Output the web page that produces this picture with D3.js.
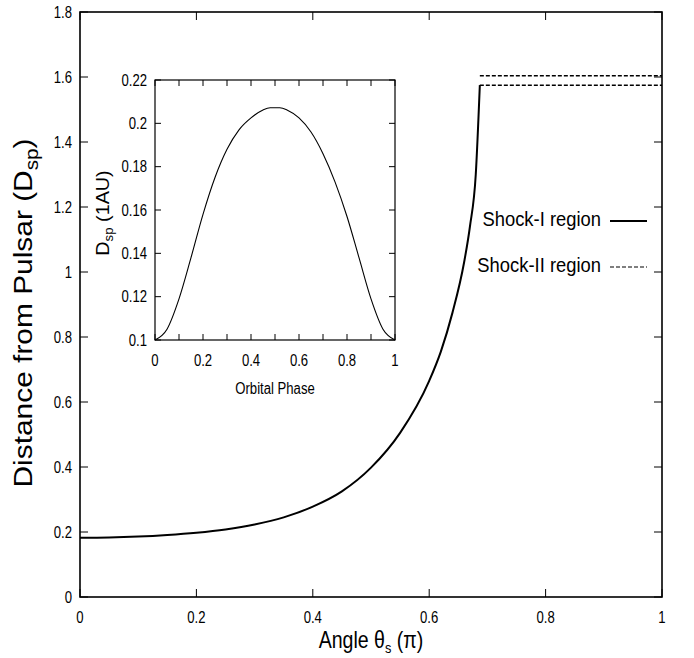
<!DOCTYPE html>
<html><head><meta charset="utf-8">
<script src="https://cdn.jsdelivr.net/npm/d3@7"></script>
<style>
body{margin:0;background:#fff;}
text{font-family:"Liberation Sans",Arial,Helvetica,sans-serif;fill:#000;}
</style></head>
<body><svg id="c" width="694" height="658"></svg>
<script>
// Main curve: shock distance vs angle (units of pi)
const shockAngle = [0, 0.05, 0.1, 0.15, 0.2, 0.25, 0.3, 0.35, 0.4, 0.45, 0.5, 0.55, 0.6, 0.62, 0.64, 0.66, 0.67, 0.68, 0.687];
const shockDist  = [0.182, 0.183, 0.186, 0.191, 0.198, 0.208, 0.223, 0.245, 0.278, 0.325, 0.398, 0.505, 0.665, 0.755, 0.875, 1.03, 1.14, 1.30, 1.575];
// Shock-II region (dashed)
const shock2Angle = [0.687, 1];
const shock2Upper = [1.604, 1.604];
const shock2Lower = [1.575, 1.575];
// Inset: D_sp vs orbital phase
const phase = [0, 0.05, 0.1, 0.15, 0.2, 0.25, 0.3, 0.35, 0.4, 0.45, 0.48, 0.52, 0.55, 0.6, 0.65, 0.7, 0.75, 0.8, 0.85, 0.9, 0.95, 1];
const dsp   = [0.1, 0.105, 0.119, 0.138, 0.158, 0.175, 0.188, 0.197, 0.2025, 0.2062, 0.2072, 0.2072, 0.2062, 0.2025, 0.196, 0.186, 0.173, 0.157, 0.138, 0.119, 0.105, 0.1];
const mainXTicks = [0, 0.2, 0.4, 0.6, 0.8, 1];
const mainYTicks = [0, 0.2, 0.4, 0.6, 0.8, 1, 1.2, 1.4, 1.6, 1.8];
const insetXTicks = [0, 0.1, 0.2, 0.3, 0.4, 0.5, 0.6, 0.7, 0.8, 0.9, 1];
const insetXLabels = [0, 0.2, 0.4, 0.6, 0.8, 1];
const insetYTicks = [0.1, 0.12, 0.14, 0.16, 0.18, 0.2, 0.22];
const legendLabels = ["Shock-I region", "Shock-II region"];

const svg = d3.select("#c");
const fmt = d => String(+d.toFixed(2));

// condensed text helper
function txt(g, x, y, s, fs, anchor, sx, dy) {
  return g.append("text").attr("transform",`translate(${x},${y}) scale(${sx},1)`)
    .attr("text-anchor",anchor).attr("font-size",fs).attr("dy",dy||0).text(s);
}

function drawAxes(g, x, y, xt, xl, yt, tl, fs, sx, xlOff) {
  const [x0,x1] = x.range(), [y0,y1] = y.range();
  xt.forEach(v => {
    g.append("line").attr("x1",x(v)).attr("x2",x(v)).attr("y1",y0).attr("y2",y0-tl).attr("stroke","#000").attr("stroke-width",1);
    g.append("line").attr("x1",x(v)).attr("x2",x(v)).attr("y1",y1).attr("y2",y1+tl).attr("stroke","#000").attr("stroke-width",1);
  });
  yt.forEach(v => {
    g.append("line").attr("x1",x0).attr("x2",x0+tl).attr("y1",y(v)).attr("y2",y(v)).attr("stroke","#000").attr("stroke-width",1);
    g.append("line").attr("x1",x1).attr("x2",x1-tl).attr("y1",y(v)).attr("y2",y(v)).attr("stroke","#000").attr("stroke-width",1);
  });
  xl.forEach(v => txt(g, x(v), y0+xlOff, fmt(v), fs, "middle", sx));
  yt.forEach(v => txt(g, x0-8, y(v), fmt(v), fs, "end", sx, "0.36em"));
}

// ---- main plot
const M = {l:80, r:662, t:12, b:597};
const x = d3.scaleLinear().domain([0,1]).range([M.l, M.r]);
const y = d3.scaleLinear().domain([0,1.8]).range([M.b, M.t]);
const g = svg.append("g");
drawAxes(g, x, y, mainXTicks, mainXTicks, mainYTicks, 8, 16, 0.82, 26);
g.append("rect").attr("x",M.l).attr("y",M.t).attr("width",M.r-M.l).attr("height",M.b-M.t).attr("fill","none").attr("stroke","#000").attr("stroke-width",1.6);

const line = d3.line().x(d=>x(d[0])).y(d=>y(d[1])).curve(d3.curveMonotoneX);
g.append("path").datum(d3.zip(shockAngle, shockDist)).attr("d",line).attr("fill","none").attr("stroke","#000").attr("stroke-width",2);
const lineL = d3.line().x(d=>x(d[0])).y(d=>y(d[1]));
g.append("path").datum(d3.zip(shock2Angle, shock2Upper)).attr("d",lineL).attr("fill","none").attr("stroke","#000").attr("stroke-width",1.5).attr("stroke-dasharray","4,2");
g.append("path").datum(d3.zip(shock2Angle, shock2Lower)).attr("d",lineL).attr("fill","none").attr("stroke","#000").attr("stroke-width",1.5).attr("stroke-dasharray","4,2");

// axis titles
const xt = g.append("text").attr("transform",`translate(${(M.l+M.r)/2},648) scale(0.85,1)`).attr("text-anchor","middle").attr("font-size",23);
xt.append("tspan").text("Angle θ");
xt.append("tspan").attr("font-size",15).attr("dy",5).text("s");
xt.append("tspan").attr("dy",-5).text(" (π)");
const yt = g.append("text").attr("transform","translate(32,313) rotate(-90) scale(1.15,1)").attr("text-anchor","middle").attr("font-size",26);
yt.append("tspan").text("Distance from Pulsar (D");
yt.append("tspan").attr("font-size",18).attr("dy",6).text("sp");
yt.append("tspan").attr("dy",-6).text(")");

// legend
const leg = g.append("g");
[[219,null],[265,"4,2"]].forEach((p,i) => {
  txt(leg, 601, p[0], legendLabels[i], 20, "end", 0.92, "0.36em");
  leg.append("line").attr("x1",610).attr("x2",647).attr("y1",p[0]+2).attr("y2",p[0]+2).attr("stroke","#000").attr("stroke-width",i?1.2:1.8).attr("stroke-dasharray",p[1]);
});

// ---- inset
const I = {l:155, r:395, t:80, b:340};
const xi = d3.scaleLinear().domain([0,1]).range([I.l, I.r]);
const yi = d3.scaleLinear().domain([0.1,0.22]).range([I.b, I.t]);
const gi = svg.append("g");
drawAxes(gi, xi, yi, insetXTicks, insetXLabels, insetYTicks, 6, 16, 0.82, 26);
gi.append("rect").attr("x",I.l).attr("y",I.t).attr("width",I.r-I.l).attr("height",I.b-I.t).attr("fill","none").attr("stroke","#000").attr("stroke-width",1.2);
const linei = d3.line().x(d=>xi(d[0])).y(d=>yi(d[1])).curve(d3.curveMonotoneX);
gi.append("path").datum(d3.zip(phase, dsp)).attr("d",linei).attr("fill","none").attr("stroke","#000").attr("stroke-width",1.1);
txt(gi, (I.l+I.r)/2, 394, "Orbital Phase", 16, "middle", 0.82);
const yl = gi.append("text").attr("transform","translate(109,213) rotate(-90) scale(1.1,1)").attr("text-anchor","middle").attr("font-size",18);
yl.append("tspan").text("D");
yl.append("tspan").attr("font-size",12).attr("dy",4).text("sp");
yl.append("tspan").attr("dy",-4).text("  (1AU)");
</script></body></html>
